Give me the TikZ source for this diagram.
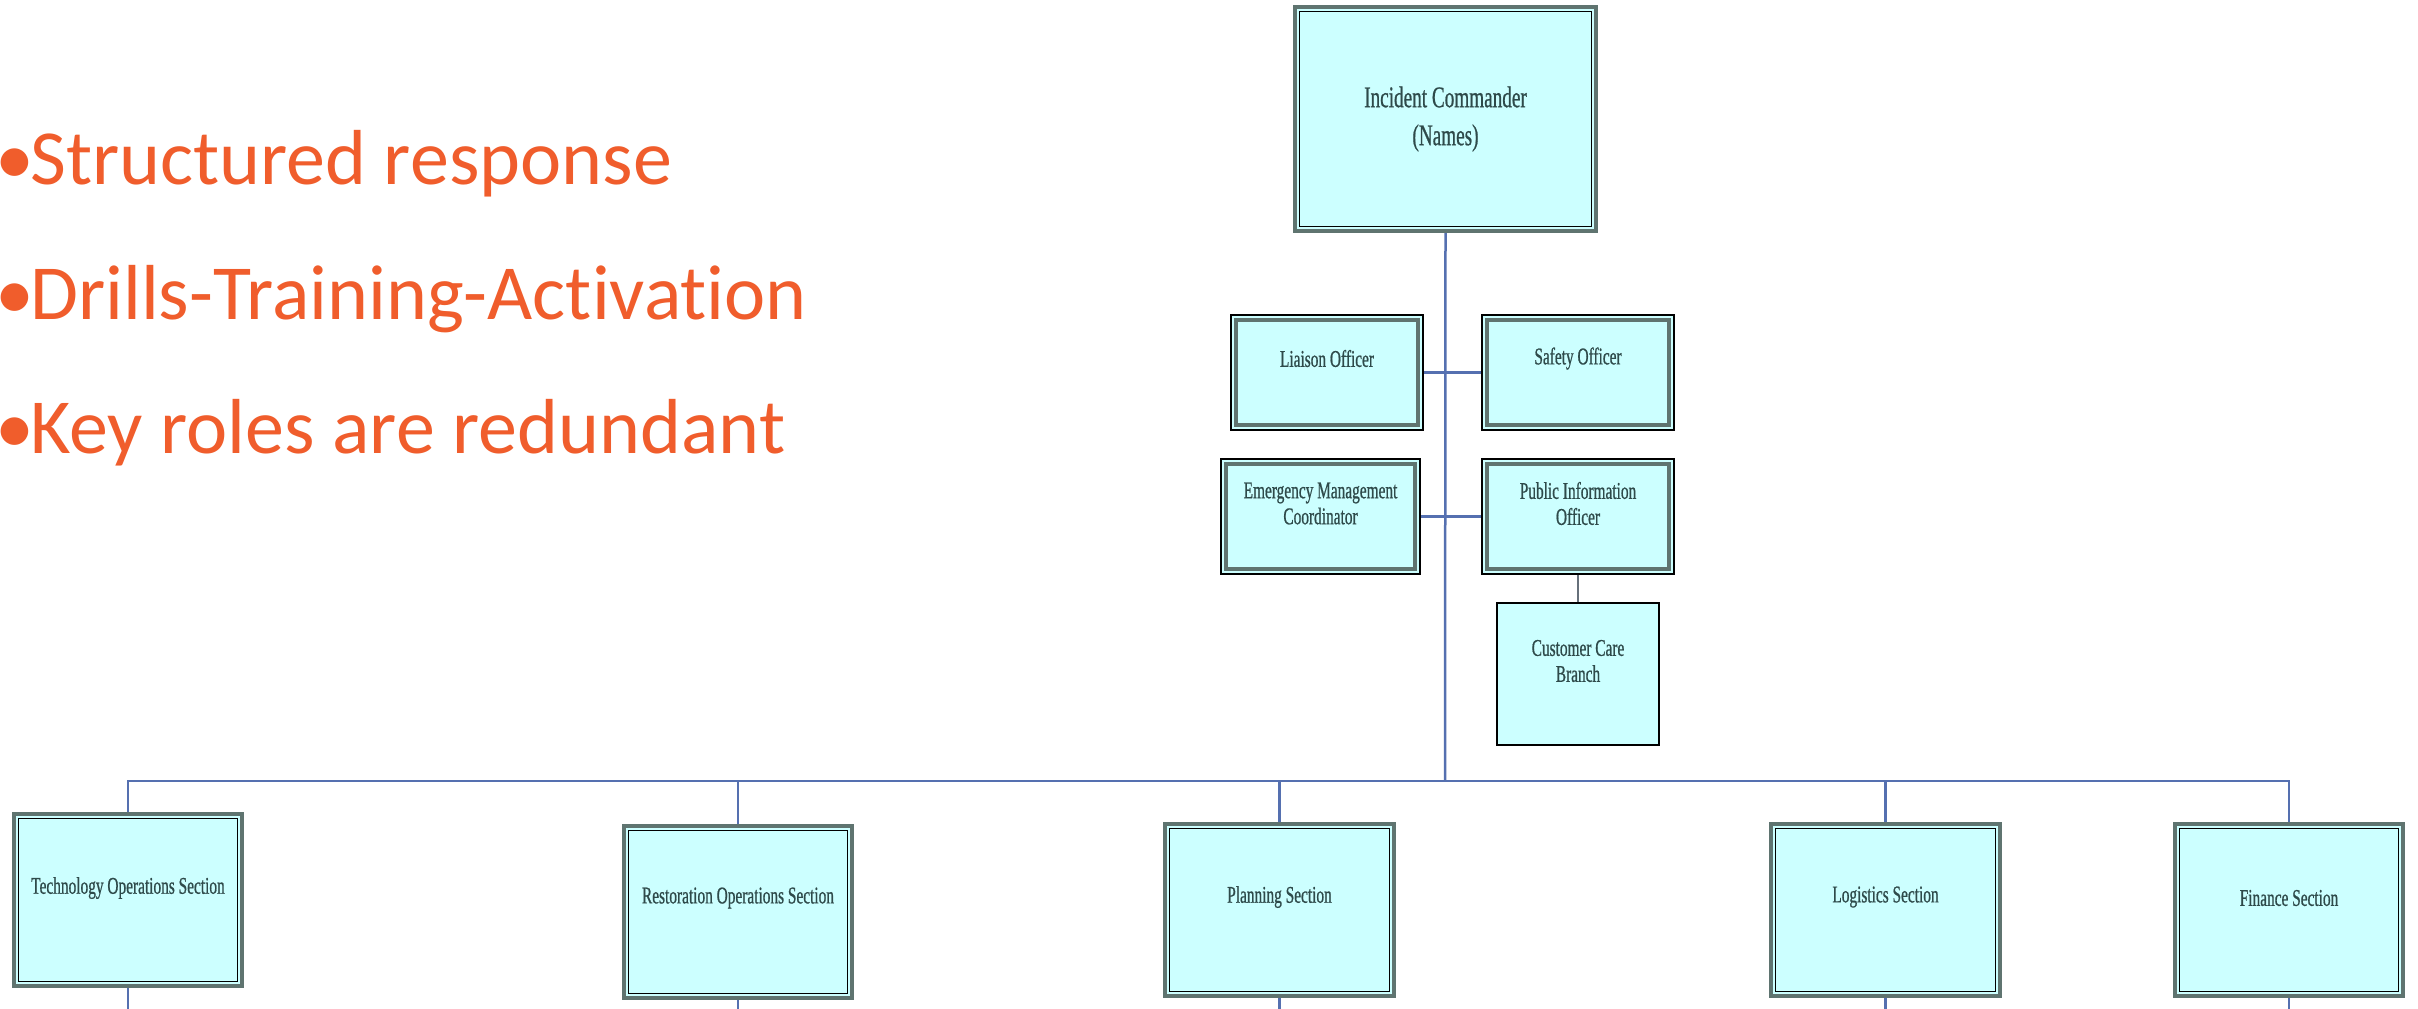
\documentclass[tikz,border=0pt]{standalone}
\usepackage{fontspec}
\setmainfont{Carlito}[Ligatures=NoCommon]
\newfontfamily\orgfont[FakeStretch=0.64,FakeBold=0.7]{Liberation Serif}
\definecolor{bulletc}{HTML}{F05D2C}
\definecolor{boxfill}{HTML}{CCFFFF}
\definecolor{framec}{HTML}{5F7470}
\definecolor{textc}{HTML}{2E4A4A}
\definecolor{linec}{HTML}{5570B0}
\definecolor{slatec}{HTML}{66707A}
\newcommand{\bulitem}{\makebox[29pt][l]{\kern-6pt•}}
\begin{document}
\begin{tikzpicture}[x={(1pt,0pt)},y={(0pt,-1pt)},
  obox/.style={rectangle, draw=framec, line width=4pt, fill=boxfill, inner sep=0pt,
    path picture={\draw[black, line width=1.5pt]
      ([shift={(4.5pt,4.5pt)}]path picture bounding box.south west) rectangle
      ([shift={(-4.5pt,-4.5pt)}]path picture bounding box.north east);}},
  ibox/.style={rectangle, draw=black, line width=1.8pt, fill=boxfill, inner sep=0pt,
    path picture={\draw[framec, line width=4pt]
      ([shift={(5pt,5pt)}]path picture bounding box.south west) rectangle
      ([shift={(-5pt,-5pt)}]path picture bounding box.north east);}},
  sbox/.style={rectangle, draw=black, line width=1.8pt, fill=boxfill, inner sep=0pt},
  btext/.style={font=\orgfont\fontsize{24}{26}\selectfont, text=textc, align=center, inner sep=0pt},
  conn/.style={draw=linec, line width=2.5pt},
  bul/.style={anchor=base west, inner sep=0pt, text=bulletc, font=\fontsize{78}{80}\selectfont}
]
\useasboundingbox[fill=white] (0,0) rectangle (2418,1009);

% bullets
\node[bul] (b1) at (1,184) {\bulitem Structured response};
\node[bul] (b2) at (1,319) {\bulitem Drills-Training-Activation};
\node[bul] (b3) at (1,453) {\bulitem Key roles are redundant};

% coordinates
\coordinate (busc) at (1445,781);
\coordinate (bot) at (0,1009);

% boxes
\node[obox, minimum width=301pt, minimum height=224pt] (ic) at (1445.5,119) {};
\node[ibox, minimum width=192pt, minimum height=115pt] (liaison) at (1327,372.5) {};
\node[ibox, minimum width=192pt, minimum height=115pt] (safety) at (1578,372.5) {};
\node[ibox, minimum width=199pt, minimum height=115pt] (emc) at (1320.5,516.5) {};
\node[ibox, minimum width=192pt, minimum height=115pt] (pio) at (1578,516.5) {};
\node[sbox, minimum width=162pt, minimum height=142pt] (ccb) at (1578,674) {};
\node[obox, minimum width=228pt, minimum height=172pt] (tech) at (128,900) {};
\node[obox, minimum width=228pt, minimum height=172pt] (rest) at (738,912) {};
\node[obox, minimum width=229pt, minimum height=172pt] (plan) at (1279.5,910) {};
\node[obox, minimum width=229pt, minimum height=172pt] (logi) at (1885.5,910) {};
\node[obox, minimum width=228pt, minimum height=172pt] (fin) at (2289,910) {};

% texts
\node[btext, font=\orgfont\fontsize{30}{38}\selectfont] (ic-t) at (ic.center) {Incident Commander\\(Names)};
\node[btext] (liaison-t) at ([yshift=14pt]liaison.center) {Liaison Officer};
\node[btext] (safety-t) at ([yshift=14pt]safety.center) {Safety Officer};
\node[btext] (emc-t) at ([yshift=13pt]emc.center) {Emergency Management\\Coordinator};
\node[btext] (pio-t) at ([yshift=13pt]pio.center) {Public Information\\Officer};
\node[btext] (ccb-t) at ([yshift=13pt]ccb.center) {Customer Care\\Branch};
\node[btext] (tech-t) at ([yshift=12pt]tech.center) {Technology Operations Section};
\node[btext] (rest-t) at ([yshift=14pt]rest.center) {Restoration Operations Section};
\node[btext] (plan-t) at ([yshift=13pt]plan.center) {Planning Section};
\node[btext] (logi-t) at ([yshift=13pt]logi.center) {Logistics Section};
\node[btext] (fin-t) at ([yshift=12pt]fin.center) {Finance Section};

% connectors
\draw[conn] (ic.south) -- (busc);
\draw[conn] (liaison.east) -- (safety.west);
\draw[conn] (emc.east) -- (pio.west);
\draw[draw=slatec, line width=2.5pt] (pio.south) -- (ccb.north);
\draw[conn] (tech.north) -- (tech.north |- busc) -- (fin.north |- busc) -- (fin.north);
\draw[conn] (rest.north) -- (rest.north |- busc);
\draw[conn] (plan.north) -- (plan.north |- busc);
\draw[conn] (logi.north) -- (logi.north |- busc);
\draw[conn] (tech.south) -- (tech.south |- bot);
\draw[conn] (rest.south) -- (rest.south |- bot);
\draw[conn] (plan.south) -- (plan.south |- bot);
\draw[conn] (logi.south) -- (logi.south |- bot);
\draw[conn] (fin.south) -- (fin.south |- bot);
\end{tikzpicture}
\end{document}
